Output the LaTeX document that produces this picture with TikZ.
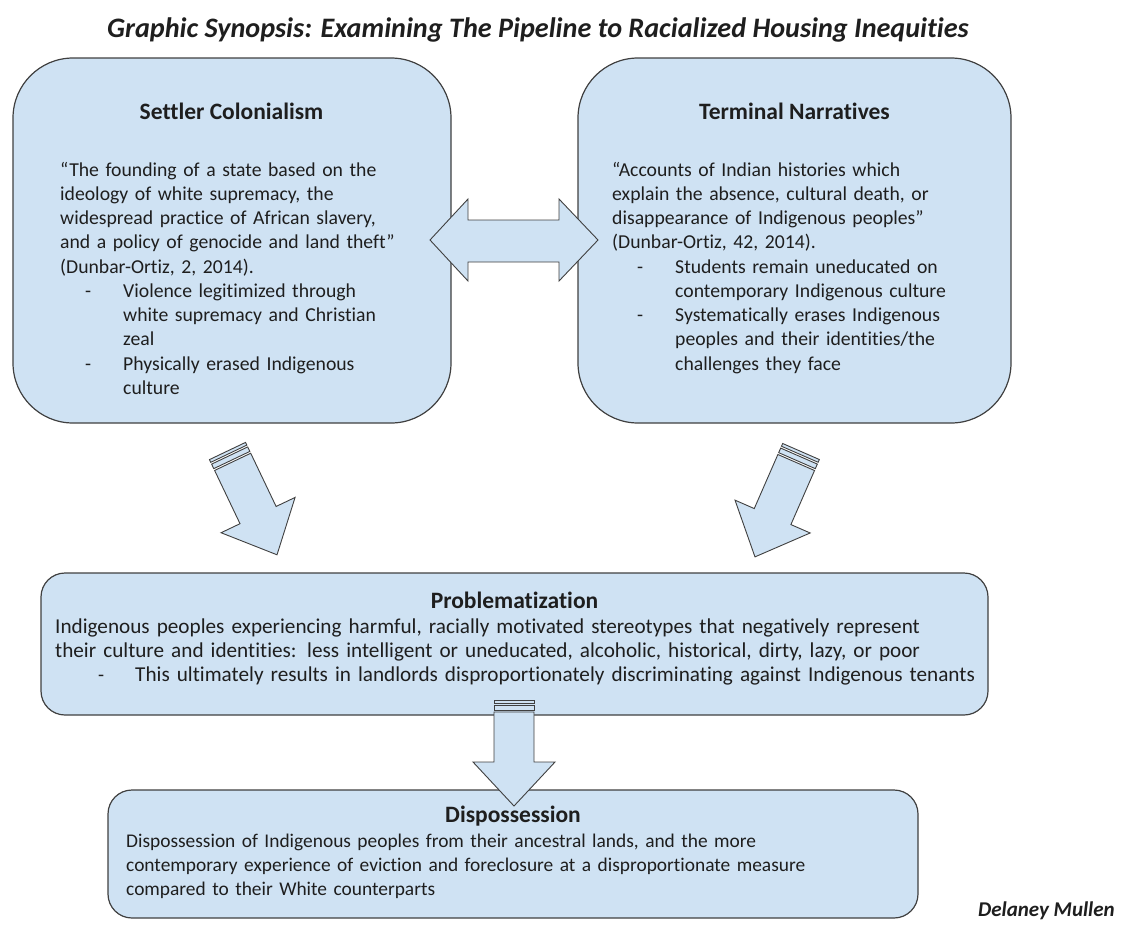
\documentclass[tikz,border=0pt]{standalone}
\usepackage{fontspec}
\setmainfont{Carlito}[Ligatures=NoCommon]
\usetikzlibrary{positioning}
\definecolor{boxfill}{HTML}{CFE2F3}
\definecolor{boxline}{HTML}{404040}
\definecolor{inktext}{HTML}{1E1E1E}
% striped block arrow: tail centre x, y, angle, length
\newcommand{\stripedarrow}[4]{%
  \begin{scope}[shift={(#1,#2)},rotate=#3]
    \draw[blockarrow] (-20,0) rectangle (20,3);
    \draw[blockarrow] (-20,5) rectangle (20,10);
    \draw[blockarrow] (-20,12) -- (20,12) -- (20,#4-44) -- (41,#4-44) -- (0,#4)
      -- (-41,#4-44) -- (-20,#4-44) -- cycle;
  \end{scope}}
\begin{document}
\begin{tikzpicture}[x=1pt,y=-1pt,
    bigbox/.style={draw=boxline,fill=boxfill,line width=1.2pt},
    blockarrow/.style={draw=boxline,fill=boxfill,line width=0.9pt,line join=miter},
    body/.style={inner sep=0pt,anchor=base west,align=left,text=inktext,
      font=\fontsize{19.7}{24.25}\selectfont},
    bulletmark/.style={body,text width=20pt},
    heading/.style={inner sep=0pt,anchor=base,text=inktext,
      font=\fontsize{23.5}{26}\selectfont\bfseries}]
  \useasboundingbox (0,0) rectangle (1124,932);
  % title
  \node[inner sep=0pt,text=inktext,font=\fontsize{28.2}{30}\selectfont\bfseries\itshape]
    (title) at (538,30) {Graphic Synopsis: Examining The Pipeline to Racialized Housing Inequities};
  % boxes
  \node[bigbox,rounded corners=60pt,minimum width=438pt,minimum height=365pt] (settler) at (232,240.5) {};
  \node[bigbox,rounded corners=60pt,minimum width=433pt,minimum height=365pt] (terminal) at (794.5,240.5) {};
  \node[bigbox,rounded corners=24pt,minimum width=947pt,minimum height=142pt] (problem) at (514.5,644) {};
  \node[bigbox,rounded corners=24pt,minimum width=810pt,minimum height=128pt] (dispossess) at (513,854) {};
  % double arrow between the two upper boxes
  \draw[blockarrow] (430,240) -- (468,199) -- (468,220) -- (559,220) -- (559,199) -- (598,240)
    -- (559,281) -- (559,262) -- (468,262) -- (468,281) -- cycle;
  % striped arrows
  \stripedarrow{227.5}{451}{25.5}{115}
  \stripedarrow{801}{451.5}{-23.6}{115}
  \stripedarrow{514}{700}{0}{106}
  % settler colonialism
  \node[heading] (settler_h) at (231.5,119) {Settler Colonialism};
  \node[body,text width=380pt] (settler_q) at (60,176)
    {“The founding of a state based on the\\ideology of white supremacy, the\\widespread practice of African slavery,\\and a policy of genocide and land theft”\\(Dunbar-Ortiz, 2, 2014).};
  \node[bulletmark] (settler_d1) at (85,297) {-};
  \node[body,text width=300pt] (settler_b1) at (123,297) {Violence legitimized through\\white supremacy and Christian\\zeal};
  \node[bulletmark] (settler_d2) at (85,370) {-};
  \node[body,text width=300pt] (settler_b2) at (123,370) {Physically erased Indigenous\\culture};
  % terminal narratives
  \node[heading] (terminal_h) at (794.5,119) {Terminal Narratives};
  \node[body,text width=390pt] (terminal_q) at (612,176)
    {“Accounts of Indian histories which\\explain the absence, cultural death, or\\disappearance of Indigenous peoples”\\(Dunbar-Ortiz, 42, 2014).};
  \node[bulletmark] (terminal_d1) at (637,273) {-};
  \node[body,text width=320pt] (terminal_b1) at (675,273) {Students remain uneducated on\\contemporary Indigenous culture};
  \node[bulletmark] (terminal_d2) at (637,321.5) {-};
  \node[body,text width=320pt] (terminal_b2) at (675,321.5) {Systematically erases Indigenous\\peoples and their identities/the\\challenges they face};
  % problematization
  \node[heading] (problem_h) at (514.5,608) {Problematization};
  \node[body,font=\fontsize{21.2}{24.25}\selectfont,text width=935pt] (problem_t) at (55,633)
    {Indigenous peoples experiencing harmful, racially motivated stereotypes that negatively represent\\their culture and identities: less intelligent or uneducated, alcoholic, historical, dirty, lazy, or poor};
  \node[bulletmark] (problem_d) at (98,681) {-};
  \node[body,font=\fontsize{21.2}{24.25}\selectfont,text width=855pt] (problem_b) at (135,681)
    {This ultimately results in landlords disproportionately discriminating against Indigenous tenants};
  % dispossession
  \node[heading] (dispossess_h) at (513,822) {Dispossession};
  \node[body,font=\fontsize{19.4}{24.25}\selectfont,text width=780pt] (dispossess_t) at (126,847)
    {Dispossession of Indigenous peoples from their ancestral lands, and the more\\contemporary experience of eviction and foreclosure at a disproportionate measure\\compared to their White counterparts};
  % author
  \node[inner sep=0pt,anchor=base east,text=inktext,font=\fontsize{21}{24}\selectfont\bfseries\itshape]
    (author) at (1115,916) {Delaney Mullen};
\end{tikzpicture}
\end{document}
